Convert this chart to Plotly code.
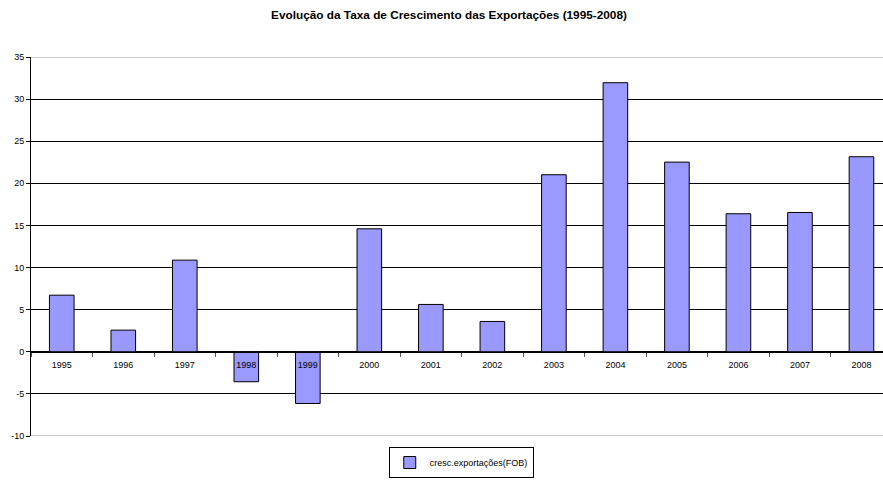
import plotly.graph_objects as go

years = ["1995", "1996", "1997", "1998", "1999", "2000", "2001", "2002",
         "2003", "2004", "2005", "2006", "2007", "2008"]
growth = [6.72, 2.57, 10.88, -3.56, -6.14, 14.6, 5.62, 3.6,
          21.02, 31.95, 22.52, 16.39, 16.54, 23.16]
y_ticks = [-10, -5, 0, 5, 10, 15, 20, 25, 30, 35]
series_name = "cresc.exportações(FOB)"
title = "Evolução da Taxa de Crescimento das Exportações (1995-2008)"

FONT = "Liberation Sans, Arial, sans-serif"

fig = go.Figure()
fig.add_trace(go.Bar(
    x=years, y=growth, name=series_name,
    marker=dict(color="#9999FF", line=dict(color="#000000", width=1)),
    width=0.4,
    showlegend=True,
))

fig.update_layout(
    width=883, height=482,
    margin=dict(l=31, r=0, t=57, b=46),
    paper_bgcolor="white", plot_bgcolor="white",
    font=dict(family=FONT, size=9, color="#000"),
    title=dict(text="<b>" + title + "</b>", x=449 / 883, xanchor="center",
               y=1 - 15 / 482, yanchor="middle", yref="container", xref="container",
               font=dict(family=FONT, size=11.8, color="#000")),
    showlegend=True,
    legend=dict(x=0.505, y=-0.07, xanchor="center", yanchor="middle",
                xref="paper", yref="paper",
                bordercolor="#000", borderwidth=1, bgcolor="white",
                font=dict(family=FONT, size=9, color="#000"),
                itemwidth=30, tracegroupgap=0),
    bargap=0.6,
)

fig.update_yaxes(
    range=[-10, 35], tickvals=y_ticks, ticktext=[str(v) for v in y_ticks],
    showgrid=True, gridcolor="#000", gridwidth=1,
    zeroline=False,
    showline=True, linecolor="#000", linewidth=1,
    ticks="outside", ticklen=4, tickcolor="#000",
    tickfont=dict(family=FONT, size=9, color="#000"),
)

fig.update_xaxes(
    type="category", range=[-0.5, 13.35],
    anchor="free", position=10 / 45,
    showline=True, linecolor="#000", linewidth=1,
    showgrid=False, zeroline=False,
    ticks="outside", tickson="boundaries", ticklen=4, tickcolor="#555",
    ticklabelstandoff=4,
    tickfont=dict(family=FONT, size=9, color="#000"),
)

# light border lines at top and bottom of plot area
for yv in (y_ticks[0], y_ticks[-1]):
    fig.add_shape(type="line", xref="paper", yref="y", x0=0, x1=1, y0=yv, y1=yv,
                  line=dict(color="#c8c8c8", width=2), layer="above")

fig.write_html("out.html")
